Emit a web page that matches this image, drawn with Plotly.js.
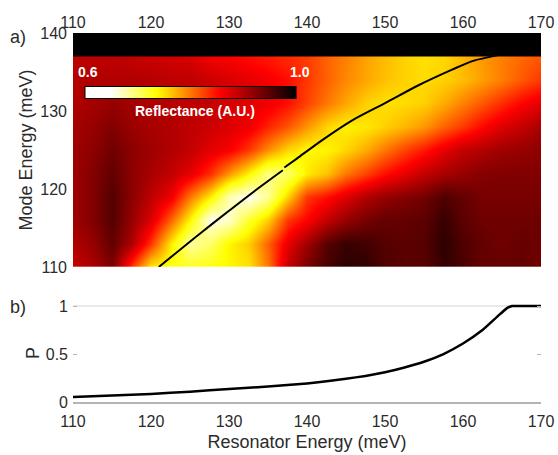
<!DOCTYPE html>
<html>
<head>
<meta charset="utf-8">
<script src="https://cdn.plot.ly/plotly-3.0.1.min.js"></script>
<style>html,body{margin:0;padding:0;background:#fff;}#chart{width:558px;height:455px;}</style>
</head>
<body>
<div id="chart"></div>
<script>
// Resonator energy grid (meV) and mode energy grid (meV)
const resonatorE = [110,112.5,115,117.5,120,122.5,125,127.5,130,132.5,135,137.5,140,142.5,145,147.5,150,152.5,155,157.5,160,162.5,165,167.5,170];
const modeE = [110,113,116,119,122,125,128,131,134,137];
// Reflectance rows (A.U.), one per mode energy
const refl110 = [0.887,0.905,0.93,0.83,0.745,0.73,0.725,0.73,0.74,0.75,0.8,0.89,0.932,0.96,0.975,0.972,0.955,0.95,0.95,0.97,0.958,0.943,0.943,0.943,0.937];
const refl113 = [0.9,0.915,0.945,0.9,0.83,0.745,0.68,0.7,0.74,0.76,0.81,0.87,0.91,0.95,0.968,0.963,0.952,0.948,0.952,0.975,0.955,0.943,0.937,0.943,0.937];
const refl116 = [0.91,0.927,0.952,0.915,0.875,0.81,0.74,0.655,0.665,0.72,0.758,0.83,0.856,0.89,0.915,0.933,0.943,0.943,0.948,0.968,0.948,0.937,0.937,0.937,0.937];
const refl119 = [0.91,0.927,0.952,0.92,0.893,0.865,0.8,0.745,0.675,0.65,0.685,0.758,0.83,0.85,0.875,0.9,0.915,0.925,0.935,0.955,0.943,0.932,0.932,0.932,0.932];
const refl122 = [0.91,0.927,0.945,0.92,0.905,0.89,0.87,0.835,0.785,0.74,0.69,0.7,0.745,0.765,0.8,0.825,0.85,0.87,0.89,0.905,0.915,0.925,0.927,0.927,0.927];
const refl125 = [0.91,0.92,0.937,0.92,0.91,0.9,0.89,0.872,0.86,0.83,0.79,0.755,0.738,0.74,0.755,0.775,0.8,0.825,0.845,0.87,0.89,0.9,0.91,0.915,0.92];
const refl128 = [0.907,0.915,0.927,0.912,0.905,0.9,0.893,0.885,0.875,0.865,0.84,0.815,0.785,0.755,0.742,0.747,0.758,0.77,0.785,0.81,0.83,0.855,0.875,0.89,0.905];
const refl131 = [0.9,0.907,0.915,0.907,0.9,0.897,0.893,0.89,0.88,0.872,0.865,0.85,0.825,0.8,0.778,0.758,0.75,0.752,0.758,0.775,0.795,0.815,0.835,0.855,0.87];
const refl134 = [0.897,0.9,0.9,0.9,0.897,0.893,0.892,0.885,0.878,0.87,0.862,0.85,0.83,0.81,0.792,0.778,0.765,0.757,0.752,0.757,0.767,0.782,0.797,0.815,0.83];
const refl137 = [0.893,0.893,0.892,0.89,0.885,0.882,0.878,0.862,0.857,0.85,0.843,0.835,0.828,0.81,0.795,0.78,0.768,0.757,0.75,0.755,0.77,0.785,0.797,0.807,0.815];
// Polariton mode curve (two segments, small step at ~137 meV)
const lineResE1 = [121,126.3,130,133.5,136.9];
const lineModeE1 = [110,114.3,117.2,119.9,122.4];
const lineResE2 = [137.1,138.7,142,145.8,150,154.3,158.6,161.2,163.7,166,170];
const lineModeE2 = [122.75,123.9,126.3,128.8,131,133.3,135.3,136.4,137.0,137.5,137.8];
// Panel b: P vs resonator energy
const pResE = [110,115,120,125,130,135,140,142.5,145,147.5,150,152.5,155,157.5,160,162.5,164.4,165.6,166.3,168,170];
const pVal  = [0.052,0.068,0.084,0.108,0.135,0.162,0.193,0.215,0.242,0.272,0.31,0.36,0.42,0.5,0.61,0.75,0.89,0.976,1,1,1];
const xTicks = [110,120,130,140,150,160,170];

const z = [refl110,refl113,refl116,refl119,refl122,refl125,refl128,refl131,refl134,refl137];
const txt = '#2b2b2b';
const fam = 'Liberation Sans, Arial, Helvetica, sans-serif';

const traces = [
  {type:'heatmap', x:resonatorE, y:modeE, z:z, xaxis:'x', yaxis:'y', zmin:0.6, zmax:1.0, zsmooth:'best',
   hoverinfo:'skip',
   colorscale:[[0,'#ffffff'],[0.12,'#ffffff'],[0.34,'#ffff00'],[0.64,'#ff0000'],[1,'#000000']],
   colorbar:{orientation:'h', x:0.251, y:0.837, xanchor:'center', yanchor:'middle', len:211, lenmode:'pixels',
     thickness:12, outlinecolor:'#000', outlinewidth:1, showticklabels:false, ticks:'', xpad:0, ypad:0}},
  {type:'scatter', mode:'lines', x:lineResE1, y:lineModeE1, xaxis:'x', yaxis:'y', line:{color:'#000', width:2, shape:'spline', smoothing:0.8}, hoverinfo:'skip'},
  {type:'scatter', mode:'lines', x:lineResE2, y:lineModeE2, xaxis:'x', yaxis:'y', line:{color:'#000', width:2, shape:'spline', smoothing:0.8}, hoverinfo:'skip'},
  {type:'scatter', mode:'lines', x:pResE, y:pVal, xaxis:'x2', yaxis:'y2', line:{color:'#000', width:2.5, shape:'spline', smoothing:0.5}, hoverinfo:'skip'}
];

const layout = {
  width:558, height:455, showlegend:false,
  paper_bgcolor:'#fff', plot_bgcolor:'rgba(0,0,0,0)',
  margin:{l:73, r:17, t:33, b:53},
  font:{family:fam, size:16, color:txt},
  xaxis:{domain:[0,1], range:[110,170], side:'top', anchor:'y', tickvals:xTicks, showgrid:false, zeroline:false,
         showline:false, ticks:'', ticklabelstandoff:1, tickfont:{size:16, color:txt}},
  yaxis:{domain:[0.3659,1], range:[110,140], tickvals:[110,120,130,140], showgrid:false, zeroline:false, showline:false,
         ticks:'', ticklabelstandoff:5, tickfont:{size:16, color:txt},
         title:{text:'Mode Energy (meV)', font:{size:18, color:txt}, standoff:2}},
  xaxis2:{domain:[0,1], range:[110,170], anchor:'y2', tickvals:xTicks, showgrid:false, zeroline:false,
          showline:true, linecolor:'#b4b4b4', linewidth:1.5, ticks:'', ticklabelstandoff:4, tickfont:{size:16, color:txt},
          title:{text:'Resonator Energy (meV)', font:{size:18, color:txt}, standoff:6}},
  xaxis3:{overlaying:'x2', anchor:'y2', range:[110,170], tickvals:[120,140,160], ticks:'inside', ticklen:4,
          tickcolor:'#b4b4b4', mirror:'ticks', showticklabels:false, showgrid:false, zeroline:false, showline:false},
  yaxis2:{domain:[0,0.2653], range:[0,1.02], tickvals:[0,0.5,1], ticktext:['0','0.5','1'], showgrid:false, zeroline:false,
          showline:false, ticks:'inside', ticklen:4, tickcolor:'#b4b4b4', mirror:'ticks', ticklabelstandoff:4,
          tickfont:{size:16, color:txt},
          title:{text:'P', font:{size:18, color:txt}, standoff:1}},
  shapes:[
    {type:'rect', xref:'x', yref:'y', x0:110, x1:170, y0:137, y1:140, fillcolor:'#000', line:{width:0}, layer:'above'},
    {type:'line', xref:'paper', yref:'y2', x0:0, x1:1, y0:1, y1:1, line:{color:'#d4d4d4', width:1}, layer:'below'}
  ],
  annotations:[
    {text:'<b>0.6</b>', xref:'x', yref:'y', x:111.9, y:135.0, showarrow:false, font:{size:14, color:'#fff'}},
    {text:'<b>1.0</b>', xref:'x', yref:'y', x:139.1, y:135.0, showarrow:false, font:{size:14, color:'#fff'}},
    {text:'<b>Reflectance (A.U.)</b>', xref:'x', yref:'y', x:125.6, y:130.0, showarrow:false, font:{size:14, color:'#fff'}},
    {text:'a)', xref:'paper', yref:'paper', x:-0.1175, y:0.99, xanchor:'center', yanchor:'middle', showarrow:false, font:{size:18, color:txt}},
    {text:'b)', xref:'paper', yref:'paper', x:-0.1175, y:0.2575, xanchor:'center', yanchor:'middle', showarrow:false, font:{size:18, color:txt}}
  ]
};

Plotly.newPlot('chart', traces, layout, {displayModeBar:false, staticPlot:true});
</script>
</body>
</html>
